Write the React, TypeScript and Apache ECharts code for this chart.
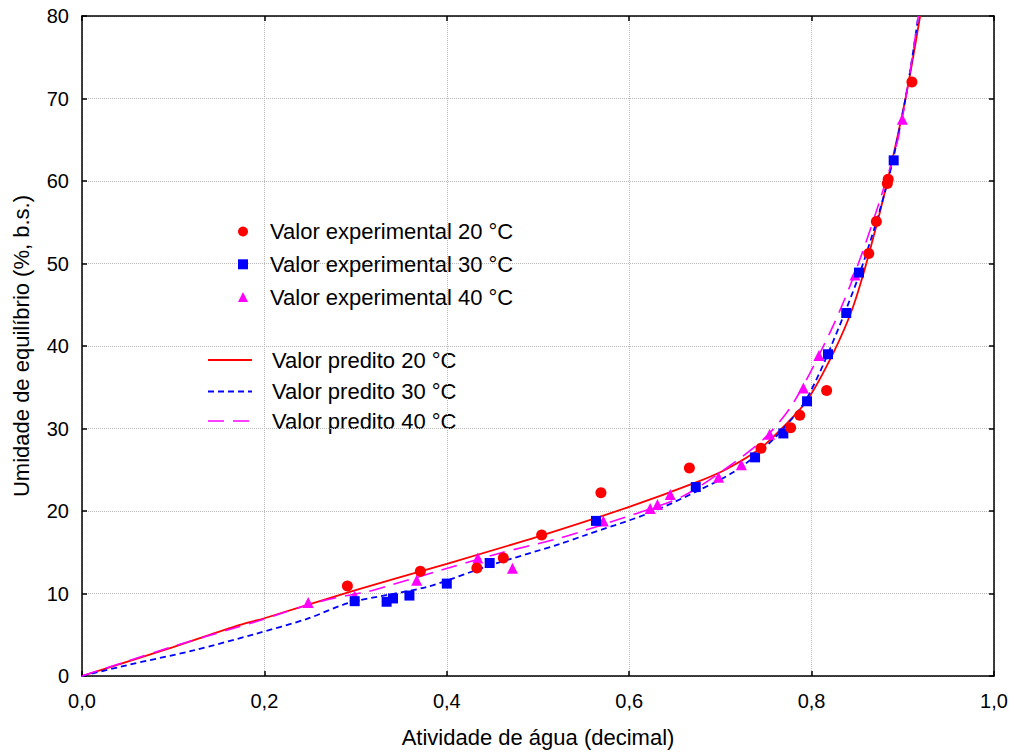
import React, { useEffect, useRef } from "react";
import * as echarts from "echarts";

// Experimental data (a_w, equilibrium moisture %)
const exp20: number[][] = [
  [0.291, 10.9], [0.371, 12.7], [0.433, 13.1], [0.462, 14.3], [0.504, 17.1],
  [0.569, 22.2], [0.666, 25.2], [0.7445, 27.6], [0.777, 30.1], [0.787, 31.6],
  [0.8165, 34.6], [0.8627, 51.2], [0.871, 55.1], [0.883, 59.7], [0.884, 60.2],
  [0.91, 72.0],
];
const exp30: number[][] = [
  [0.299, 9.07], [0.334, 9.0], [0.341, 9.4], [0.359, 9.75], [0.4, 11.2],
  [0.447, 13.7], [0.5636, 18.8], [0.673, 22.9], [0.738, 26.5], [0.769, 29.4],
  [0.795, 33.3], [0.818, 39.0], [0.838, 44.0], [0.852, 48.9], [0.89, 62.5],
];
const exp40: number[][] = [
  [0.248, 8.9], [0.299, 9.7], [0.367, 11.6], [0.434, 14.3], [0.472, 13.05],
  [0.5716, 18.8], [0.623, 20.3], [0.631, 20.8], [0.645, 22.0], [0.698, 24.1],
  [0.723, 25.6], [0.754, 29.3], [0.791, 34.9], [0.808, 38.85], [0.8476, 48.6],
  [0.8995, 67.5],
];

// Predicted curves
const pred20: number[][] = [
  [0, 0], [0.05, 1.75], [0.1, 3.5], [0.173, 6.2], [0.2, 7.0], [0.3, 10.4],
  [0.4, 13.6], [0.5, 16.9], [0.6, 20.5], [0.674, 23.5], [0.707, 25.1],
  [0.744, 27.6], [0.769, 30.2], [0.795, 33.4], [0.824, 39.2], [0.845, 44.6],
  [0.863, 51.2], [0.883, 59.9], [0.904, 70.6], [0.919, 80],
];
const pred30: number[][] = [
  [0, 0], [0.049, 1.3], [0.122, 3.1], [0.19, 5.1], [0.246, 6.9], [0.294, 8.9],
  [0.378, 10.8], [0.447, 13.4], [0.524, 16.0], [0.55, 17.0], [0.623, 19.8],
  [0.678, 22.6], [0.714, 24.7], [0.747, 27.5], [0.784, 31.9], [0.798, 34.3],
  [0.82, 39.6], [0.853, 48.9], [0.882, 59.3], [0.9006, 68.6], [0.91, 74.7],
  [0.917, 80],
];
const pred40: number[][] = [
  [0, 0], [0.05, 1.8], [0.1, 3.6], [0.173, 6.0], [0.2, 6.9], [0.25, 8.7],
  [0.279, 9.5], [0.312, 10.2], [0.338, 11.0], [0.393, 12.8], [0.455, 14.8],
  [0.52, 16.6], [0.55, 17.6], [0.605, 19.6], [0.659, 21.8], [0.718, 26.1],
  [0.751, 29.1], [0.78, 33.1], [0.82, 41.6], [0.846, 48.4], [0.875, 57.7],
  [0.897, 66.2], [0.917, 80],
];

const expNames = [
  "Valor experimental 20 °C",
  "Valor experimental 30 °C",
  "Valor experimental 40 °C",
];
const predNames = ["Valor predito 20 °C", "Valor predito 30 °C", "Valor predito 40 °C"];
const predColors = ["#ff0000", "#0000ff", "#ff00ff"];
const predDash: (string | number[])[] = ["solid", [6, 4], [16, 9]];
const predWidth = [1.8, 1.8, 1.6];

const FONT = "Liberation Sans, Arial, sans-serif";

export default function App() {
  const ref = useRef<HTMLDivElement>(null);
  useEffect(() => {
    if (!ref.current) return;
    const chart = echarts.init(ref.current, null, { renderer: "svg" });
    const gridLine = { show: true, lineStyle: { color: "#b8b8b8", type: "dotted" as const, width: 1 } };
    const axisLine = { show: true, onZero: false, lineStyle: { color: "#000", width: 1.5 } };
    const tick = { show: true, inside: true, length: 5, lineStyle: { color: "#000", width: 1.5 } };

    // legend for the predicted curves (plain line icons)
    const legendRowsY = [360, 391.5, 421];
    const predLegend: any[] = [];
    predNames.forEach((n, i) => {
      predLegend.push({
        type: "line",
        shape: { x1: 208, y1: legendRowsY[i], x2: 252, y2: legendRowsY[i] },
        style: {
          stroke: predColors[i],
          lineWidth: predWidth[i],
          lineDash: predDash[i] === "solid" ? null : (predDash[i] as number[]),
        },
      });
      predLegend.push({
        type: "text",
        x: 272,
        y: legendRowsY[i],
        style: {
          text: n,
          fill: "#000",
          font: `22px ${FONT}`,
          textVerticalAlign: "middle",
          verticalAlign: "middle",
        },
      });
    });

    chart.setOption({
      animation: false,
      backgroundColor: "#fff",
      textStyle: { fontFamily: FONT },
      grid: { left: 82, right: 20, top: 16, bottom: 76, containLabel: false },
      legend: [
        {
          data: expNames,
          orient: "vertical",
          left: 238,
          top: 220.5,
          padding: 0,
          itemWidth: 10,
          itemHeight: 10,
          itemGap: 10.8,
          textStyle: { fontSize: 22, color: "#000", fontFamily: FONT, lineHeight: 22, padding: [0, 0, 0, 17] },
        },
      ],
      graphic: predLegend,
      xAxis: [
        {
          type: "value",
          min: 0,
          max: 1,
          interval: 0.2,
          name: "Atividade de água (decimal)",
          nameLocation: "middle",
          nameGap: 50,
          nameTextStyle: { fontSize: 22, color: "#000", fontFamily: FONT },
          axisLine,
          axisTick: tick,
          axisLabel: {
            fontSize: 20,
            color: "#000",
            margin: 15,
            fontFamily: FONT,
            formatter: (v: number) => v.toFixed(1).replace(".", ","),
          },
          splitLine: gridLine,
        },
        {
          type: "value",
          position: "top",
          min: 0,
          max: 1,
          interval: 0.2,
          axisLine,
          axisTick: tick,
          axisLabel: { show: false },
          splitLine: { show: false },
        },
      ],
      yAxis: [
        {
          type: "value",
          min: 0,
          max: 80,
          interval: 10,
          name: "Umidade de equilíbrio (%, b.s.)",
          nameLocation: "middle",
          nameGap: 50,
          nameTextStyle: { fontSize: 22, color: "#000", fontFamily: FONT },
          axisLine,
          axisTick: tick,
          axisLabel: { fontSize: 20, color: "#000", margin: 13, fontFamily: FONT },
          splitLine: gridLine,
        },
        {
          type: "value",
          position: "right",
          min: 0,
          max: 80,
          interval: 10,
          axisLine,
          axisTick: tick,
          axisLabel: { show: false },
          splitLine: { show: false },
        },
      ],
      series: [
        {
          name: predNames[0],
          type: "line",
          data: pred20,
          symbol: "none",
          smooth: 0.3,
          lineStyle: { color: predColors[0], width: predWidth[0], type: "solid" },
          itemStyle: { color: predColors[0] },
          z: 2,
        },
        {
          name: predNames[1],
          type: "line",
          data: pred30,
          symbol: "none",
          smooth: 0.3,
          lineStyle: { color: predColors[1], width: predWidth[1], type: predDash[1] },
          itemStyle: { color: predColors[1] },
          z: 2,
        },
        {
          name: predNames[2],
          type: "line",
          data: pred40,
          symbol: "none",
          smooth: 0.3,
          lineStyle: { color: predColors[2], width: predWidth[2], type: predDash[2] },
          itemStyle: { color: predColors[2] },
          z: 2,
        },
        {
          name: expNames[2],
          type: "scatter",
          data: exp40,
          symbol: "triangle",
          symbolSize: 11,
          itemStyle: { color: "#ff00ff", opacity: 1 },
          z: 3,
        },
        {
          name: expNames[1],
          type: "scatter",
          data: exp30,
          symbol: "rect",
          symbolSize: 10,
          itemStyle: { color: "#0000ff", opacity: 1 },
          z: 4,
        },
        {
          name: expNames[0],
          type: "scatter",
          data: exp20,
          symbol: "circle",
          symbolSize: 11,
          itemStyle: { color: "#ff0000", opacity: 1 },
          z: 5,
        },
      ],
    });
    return () => chart.dispose();
  }, []);
  return (
    <div
      ref={ref}
      style={{ position: "fixed", left: 0, top: 0, width: 1014, height: 753, background: "#fff" }}
    />
  );
}
